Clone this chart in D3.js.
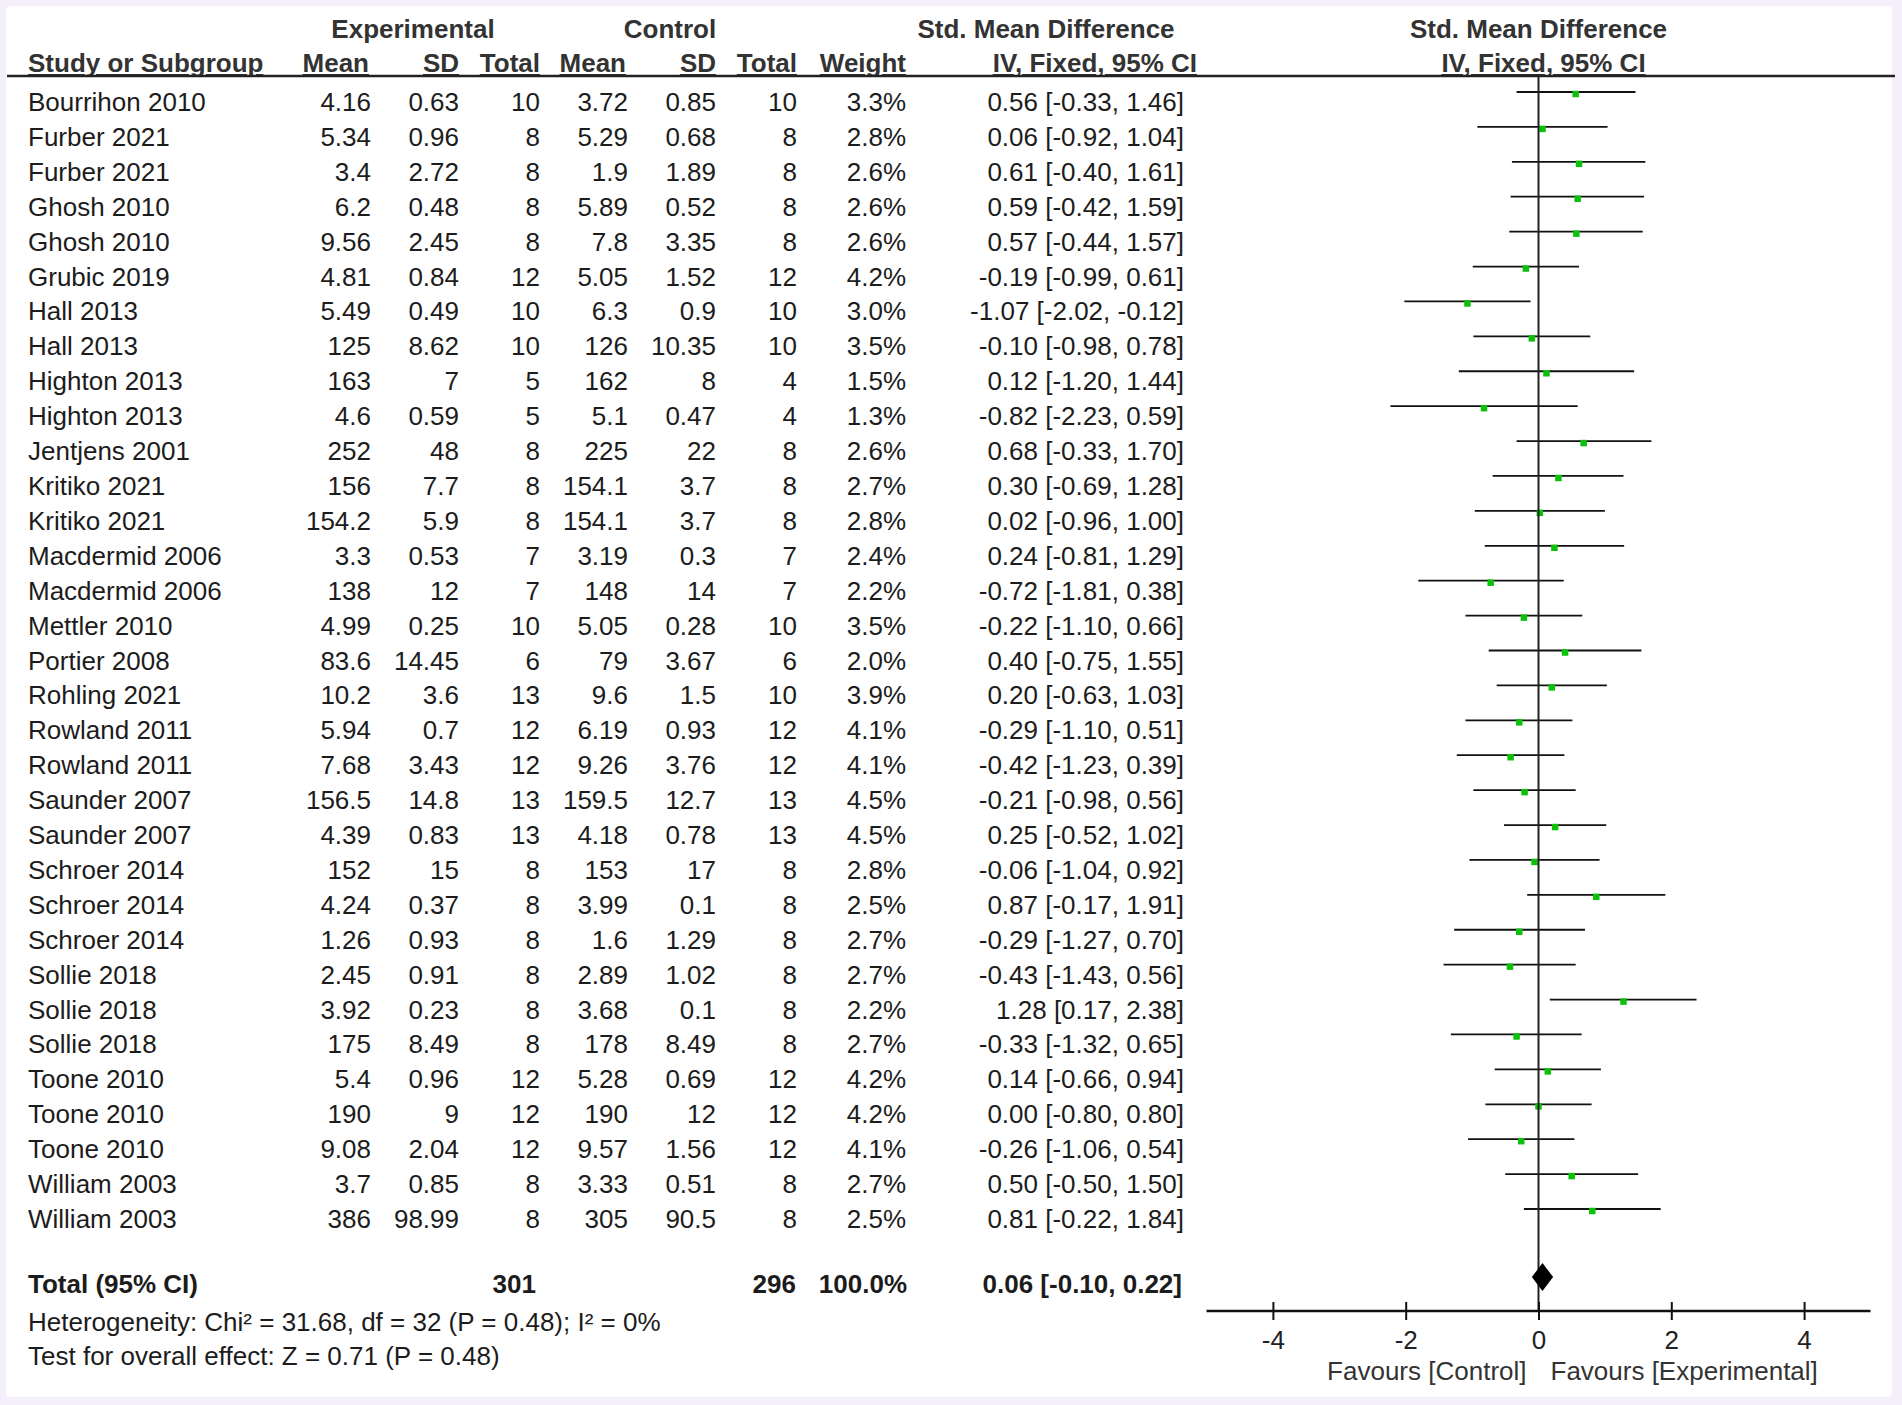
<!DOCTYPE html>
<html>
<head>
<meta charset="utf-8">
<script src="https://cdn.jsdelivr.net/npm/d3@7"></script>
<style>
  body { margin: 0; background: #f5effb; }
  svg text { font-family: "Liberation Sans", Arial, sans-serif; font-size: 26px; }
</style>
</head>
<body>
<svg id="forest" width="1902" height="1405"></svg>
<script>
// study rows, as printed in the table
const studies = ["Bourrihon 2010", "Furber 2021", "Furber 2021", "Ghosh 2010", "Ghosh 2010", "Grubic 2019",
    "Hall 2013", "Hall 2013", "Highton 2013", "Highton 2013", "Jentjens 2001", "Kritiko 2021", "Kritiko 2021",
    "Macdermid 2006", "Macdermid 2006", "Mettler 2010", "Portier 2008", "Rohling 2021", "Rowland 2011",
    "Rowland 2011", "Saunder 2007", "Saunder 2007", "Schroer 2014", "Schroer 2014", "Schroer 2014",
    "Sollie 2018", "Sollie 2018", "Sollie 2018", "Toone 2010", "Toone 2010", "Toone 2010",
    "William 2003", "William 2003"];
const expMean = [4.16, 5.34, 3.4, 6.2, 9.56, 4.81, 5.49, 125, 163, 4.6, 252, 156, 154.2, 3.3, 138, 4.99, 83.6,
    10.2, 5.94, 7.68, 156.5, 4.39, 152, 4.24, 1.26, 2.45, 3.92, 175, 5.4, 190, 9.08, 3.7, 386];
const expSD = [0.63, 0.96, 2.72, 0.48, 2.45, 0.84, 0.49, 8.62, 7, 0.59, 48, 7.7, 5.9, 0.53, 12, 0.25, 14.45,
    3.6, 0.7, 3.43, 14.8, 0.83, 15, 0.37, 0.93, 0.91, 0.23, 8.49, 0.96, 9, 2.04, 0.85, 98.99];
const expTotal = [10, 8, 8, 8, 8, 12, 10, 10, 5, 5, 8, 8, 8, 7, 7, 10, 6, 13, 12, 12, 13, 13, 8, 8, 8, 8, 8, 8,
    12, 12, 12, 8, 8];
const ctrlMean = [3.72, 5.29, 1.9, 5.89, 7.8, 5.05, 6.3, 126, 162, 5.1, 225, 154.1, 154.1, 3.19, 148, 5.05, 79,
    9.6, 6.19, 9.26, 159.5, 4.18, 153, 3.99, 1.6, 2.89, 3.68, 178, 5.28, 190, 9.57, 3.33, 305];
const ctrlSD = [0.85, 0.68, 1.89, 0.52, 3.35, 1.52, 0.9, 10.35, 8, 0.47, 22, 3.7, 3.7, 0.3, 14, 0.28, 3.67,
    1.5, 0.93, 3.76, 12.7, 0.78, 17, 0.1, 1.29, 1.02, 0.1, 8.49, 0.69, 12, 1.56, 0.51, 90.5];
const ctrlTotal = [10, 8, 8, 8, 8, 12, 10, 10, 4, 4, 8, 8, 8, 7, 7, 10, 6, 10, 12, 12, 13, 13, 8, 8, 8, 8, 8, 8,
    12, 12, 12, 8, 8];
const weight = [3.3, 2.8, 2.6, 2.6, 2.6, 4.2, 3.0, 3.5, 1.5, 1.3, 2.6, 2.7, 2.8, 2.4, 2.2, 3.5, 2.0, 3.9, 4.1,
    4.1, 4.5, 4.5, 2.8, 2.5, 2.7, 2.7, 2.2, 2.7, 4.2, 4.2, 4.1, 2.7, 2.5];
const smd = [0.56, 0.06, 0.61, 0.59, 0.57, -0.19, -1.07, -0.10, 0.12, -0.82, 0.68, 0.30, 0.02, 0.24, -0.72,
    -0.22, 0.40, 0.20, -0.29, -0.42, -0.21, 0.25, -0.06, 0.87, -0.29, -0.43, 1.28, -0.33, 0.14, 0.00, -0.26,
    0.50, 0.81];
const ciLow = [-0.33, -0.92, -0.40, -0.42, -0.44, -0.99, -2.02, -0.98, -1.20, -2.23, -0.33, -0.69, -0.96, -0.81,
    -1.81, -1.10, -0.75, -0.63, -1.10, -1.23, -0.98, -0.52, -1.04, -0.17, -1.27, -1.43, 0.17, -1.32, -0.66,
    -0.80, -1.06, -0.50, -0.22];
const ciHigh = [1.46, 1.04, 1.61, 1.59, 1.57, 0.61, -0.12, 0.78, 1.44, 0.59, 1.70, 1.28, 1.00, 1.29, 0.38, 0.66,
    1.55, 1.03, 0.51, 0.39, 0.56, 1.02, 0.92, 1.91, 0.70, 0.56, 2.38, 0.65, 0.94, 0.80, 0.54, 1.50, 1.84];

// pooled result
const total = { exp: 301, ctrl: 296, weight: 100.0, smd: 0.06, low: -0.10, high: 0.22 };
const heterogeneity = "Heterogeneity: Chi\u00b2 = 31.68, df = 32 (P = 0.48); I\u00b2 = 0%";
const overallEffect = "Test for overall effect: Z = 0.71 (P = 0.48)";
const axisTicks = [-4, -2, 0, 2, 4];
const favourLeft = "Favours [Control]";
const favourRight = "Favours [Experimental]";

const fix = (v, n) => v.toFixed(n);
const ciText = (m, lo, hi) => `${fix(m, 2)} [${fix(lo, 2)}, ${fix(hi, 2)}]`;

const svg = d3.select("#forest");

// white panel on the lavender page
svg.append("rect")
    .attr("x", 6).attr("y", 6)
    .attr("width", 1886).attr("height", 1391)
    .attr("rx", 4)
    .attr("fill", "#ffffff");

// scales
const x = d3.scaleLinear().domain([-5, 5]).range([1206.5, 1870.5]);
const rowY = d3.scalePoint().domain(d3.range(studies.length)).range([111, 1228]);
const zeroX = x(0);

// header
const head = svg.append("g").attr("fill", "#333").style("font-weight", "bold");
const top1 = 38, top2 = 72;
[["Experimental", 413], ["Control", 670], ["Std. Mean Difference", 1046], ["Std. Mean Difference", zeroX]]
    .forEach(([t, cx]) => head.append("text").attr("x", cx).attr("y", top1)
        .attr("text-anchor", "middle").text(t));

const cols = [
    { key: "expMean", x: 371, label: "Mean", lx: 369 },
    { key: "expSD", x: 459, label: "SD", lx: 459 },
    { key: "expTotal", x: 540, label: "Total", lx: 540 },
    { key: "ctrlMean", x: 628, label: "Mean", lx: 626 },
    { key: "ctrlSD", x: 716, label: "SD", lx: 716 },
    { key: "ctrlTotal", x: 797, label: "Total", lx: 797 },
    { key: "weight", x: 906, label: "Weight", lx: 906 },
    { key: "ci", x: 1184, label: "IV, Fixed, 95% CI", lx: 1197 }
];

head.append("text").attr("x", 28).attr("y", top2)
    .style("text-decoration", "underline").text("Study or Subgroup");
cols.forEach(c => head.append("text").attr("x", c.lx).attr("y", top2)
    .attr("text-anchor", "end").style("text-decoration", "underline").text(c.label));
head.append("text").attr("x", zeroX + 5).attr("y", top2)
    .attr("text-anchor", "middle").style("text-decoration", "underline").text("IV, Fixed, 95% CI");

svg.append("line")
    .attr("x1", 7).attr("x2", 1895)
    .attr("y1", 76).attr("y2", 76)
    .attr("stroke", "#222").attr("stroke-width", 2.5);

// table body
const cellValue = {
    expMean: i => String(expMean[i]),
    expSD: i => String(expSD[i]),
    expTotal: i => String(expTotal[i]),
    ctrlMean: i => String(ctrlMean[i]),
    ctrlSD: i => String(ctrlSD[i]),
    ctrlTotal: i => String(ctrlTotal[i]),
    weight: i => fix(weight[i], 1) + "%",
    ci: i => ciText(smd[i], ciLow[i], ciHigh[i])
};

const rows = svg.append("g").attr("fill", "#1c1c1c")
    .selectAll("g")
    .data(d3.range(studies.length))
    .enter()
    .append("g")
    .attr("transform", i => `translate(0, ${rowY(i)})`);

rows.append("text").attr("x", 28).text(i => studies[i]);
cols.forEach(c => rows.append("text")
    .attr("x", c.x)
    .attr("text-anchor", "end")
    .text(i => cellValue[c.key](i)));

// zero line
svg.append("line")
    .attr("x1", zeroX).attr("x2", zeroX)
    .attr("y1", 76).attr("y2", 1311)
    .attr("stroke", "#222").attr("stroke-width", 2);

// confidence intervals and point estimates
rows.append("line")
    .attr("x1", i => x(ciLow[i]))
    .attr("x2", i => x(ciHigh[i]))
    .attr("y1", -19).attr("y2", -19)
    .attr("stroke", "#111").attr("stroke-width", 1.8);

const sq = 6.5;
rows.append("rect")
    .attr("x", i => x(smd[i]) - sq / 2)
    .attr("y", -19 - sq / 2 + 2)
    .attr("width", sq).attr("height", sq)
    .attr("fill", "#0cc00c");

// total row
const totY = 1293;
const tot = svg.append("g").attr("fill", "#1c1c1c").style("font-weight", "bold");
tot.append("text").attr("x", 28).attr("y", totY).text("Total (95% CI)");
[[String(total.exp), 536], [String(total.ctrl), 796], [fix(total.weight, 1) + "%", 907],
    [ciText(total.smd, total.low, total.high), 1182]]
    .forEach(([t, ex]) => tot.append("text").attr("x", ex).attr("y", totY)
        .attr("text-anchor", "end").text(t));

const dy = 1277, dh = 14;
svg.append("path")
    .attr("d", `M${x(total.low)},${dy} L${x(total.smd)},${dy - dh} L${x(total.high)},${dy} L${x(total.smd)},${dy + dh} Z`)
    .attr("fill", "#000");

svg.append("text").attr("x", 28).attr("y", 1331).attr("fill", "#1c1c1c").text(heterogeneity);
svg.append("text").attr("x", 28).attr("y", 1365).attr("fill", "#1c1c1c").text(overallEffect);

// bottom axis
const axisY = 1311;
const axis = svg.append("g")
    .attr("transform", `translate(0, ${axisY - 9})`)
    .call(d3.axisBottom(x)
        .tickValues(axisTicks)
        .tickSize(18)
        .tickPadding(11)
        .tickFormat(d => String(d)));
axis.select(".domain").remove();
axis.selectAll(".tick line").attr("stroke", "#111").attr("stroke-width", 2);
axis.selectAll(".tick text")
    .attr("fill", "#222")
    .style("font-size", "26px")
    .style("font-family", "'Liberation Sans', Arial, sans-serif");

svg.append("line")
    .attr("x1", x(-5)).attr("x2", x(5))
    .attr("y1", axisY).attr("y2", axisY)
    .attr("stroke", "#111").attr("stroke-width", 2.5);

svg.append("text").attr("x", zeroX - 12).attr("y", 1380)
    .attr("text-anchor", "end").attr("fill", "#333").text(favourLeft);
svg.append("text").attr("x", zeroX + 12).attr("y", 1380)
    .attr("fill", "#333").text(favourRight);
</script>
</body>
</html>
